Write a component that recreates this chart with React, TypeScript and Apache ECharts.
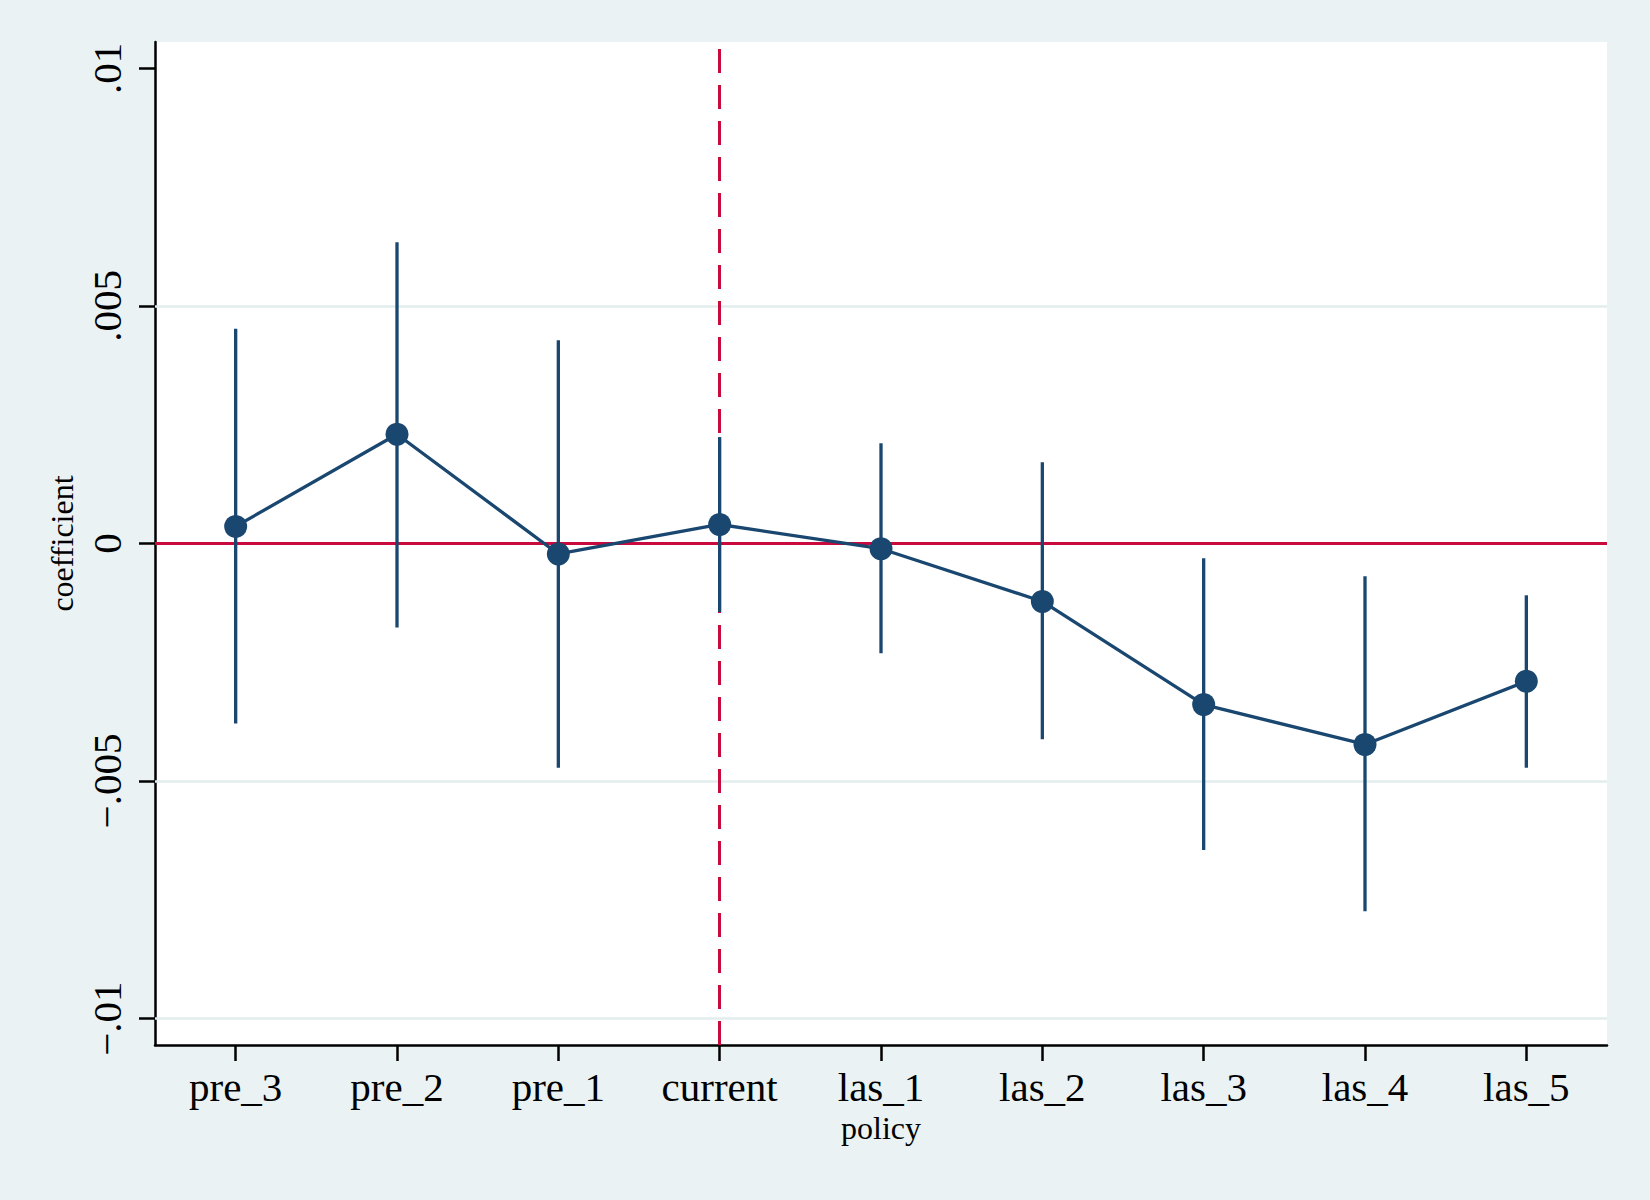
import React, { useEffect, useRef } from 'react';
import * as echarts from 'echarts';

const categories = ['pre_3', 'pre_2', 'pre_1', 'current', 'las_1', 'las_2', 'las_3', 'las_4', 'las_5'];
const coef = [0.00036, 0.0023, -0.00022, 0.0004, -0.00011, -0.00122, -0.00339, -0.00423, -0.0029];
const ciLow = [-0.00379, -0.00177, -0.00472, -0.00144, -0.00231, -0.00412, -0.00645, -0.00774, -0.00472];
const ciHigh = [0.00452, 0.00634, 0.00428, 0.00224, 0.00211, 0.00171, -0.00031, -0.00069, -0.00109];
const yTicks = [-0.01, -0.005, 0, 0.005, 0.01];
const gridValues = [-0.01, -0.005, 0.005];
const eventCategory = 'current';

const NAVY = '#1A476F';
const RED = '#C90A3D';
const BG = '#EAF2F3';
const GRIDC = '#E3EDEE';
const FONT = 'Liberation Serif';

function fmt(v: number): string {
  if (v === 0) return '0';
  const s = String(Math.abs(v)).replace(/^0/, '');
  return (v < 0 ? '\u2212' : '') + s;
}

export default function App() {
  const ref = useRef<HTMLDivElement>(null);
  useEffect(() => {
    const chart = echarts.init(ref.current!, null, { renderer: 'svg' });
    const errData = categories.map((_, i) => [i, ciLow[i], ciHigh[i]]);
    chart.setOption({
      animation: false,
      backgroundColor: BG,
      textStyle: { fontFamily: FONT },
      grid: {
        left: 155,
        right: 43,
        top: 42,
        bottom: 155,
        show: true,
        backgroundColor: '#ffffff',
        borderWidth: 0,
      },
      xAxis: {
        type: 'category',
        data: categories,
        boundaryGap: true,
        name: 'policy',
        nameLocation: 'middle',
        nameGap: 67,
        nameTextStyle: { fontFamily: FONT, fontSize: 32, color: '#000' },
        axisLine: { show: true, onZero: false, lineStyle: { color: '#000', width: 2.5 } },
        axisTick: { show: true, alignWithLabel: true, length: 16, lineStyle: { color: '#000', width: 2.5 } },
        axisLabel: { interval: 0, margin: 21, fontSize: 41, color: '#000', fontFamily: FONT },
        splitLine: { show: false, lineStyle: { opacity: 0 } },
      },
      yAxis: {
        type: 'value',
        min: -0.010556,
        max: 0.010556,
        name: 'coefficient',
        nameLocation: 'middle',
        nameGap: 74,
        nameRotate: 90,
        nameTextStyle: { fontFamily: FONT, fontSize: 32, color: '#000' },
        axisLine: { show: true, onZero: false, lineStyle: { color: '#000', width: 2.5 } },
        axisTick: { show: true, length: 16, customValues: yTicks, lineStyle: { color: '#000', width: 2.5 } },
        axisLabel: {
          rotate: 90,
          margin: 28,
          fontSize: 41,
          color: '#000',
          fontFamily: FONT,
          customValues: yTicks,
          formatter: (v: number) => fmt(v),
        },
        splitLine: { show: false, lineStyle: { opacity: 0 } },
      },
      series: [
        {
          type: 'line',
          z: 1,
          data: [],
          silent: true,
          markLine: {
            silent: true,
            z: 1,
            precision: 6,
            symbol: 'none',
            label: { show: false },
            data: gridValues.map((v) => ({ yAxis: v, lineStyle: { color: GRIDC, width: 2.5, type: 'solid' } })),
          },
        },
        {
          type: 'custom',
          z: 2,
          renderItem: (params: any, api: any) => {
            const i = api.value(0);
            const p1 = api.coord([i, api.value(1)]);
            const p2 = api.coord([i, api.value(2)]);
            return {
              type: 'line',
              shape: { x1: p1[0], y1: p1[1], x2: p2[0], y2: p2[1] },
              style: { stroke: NAVY, lineWidth: 3.3 },
            };
          },
          encode: { x: 0, y: [1, 2] },
          data: errData,
          markLine: {
            silent: true,
            z: 1,
            precision: 6,
            symbol: 'none',
            label: { show: false },
            data: [
              { yAxis: 0, lineStyle: { color: RED, width: 3, type: 'solid' } },
              { xAxis: eventCategory, lineStyle: { color: RED, width: 3, type: [24, 12] } },
            ],
          },
        },
        {
          type: 'line',
          z: 3,
          data: coef,
          symbol: 'circle',
          symbolSize: 23,
          itemStyle: { color: NAVY },
          lineStyle: { color: NAVY, width: 3.3 },
        },
      ],
    });
    return () => chart.dispose();
  }, []);
  return <div ref={ref} style={{ position: 'absolute', left: 0, top: 0, width: 1650, height: 1200 }} />;
}
